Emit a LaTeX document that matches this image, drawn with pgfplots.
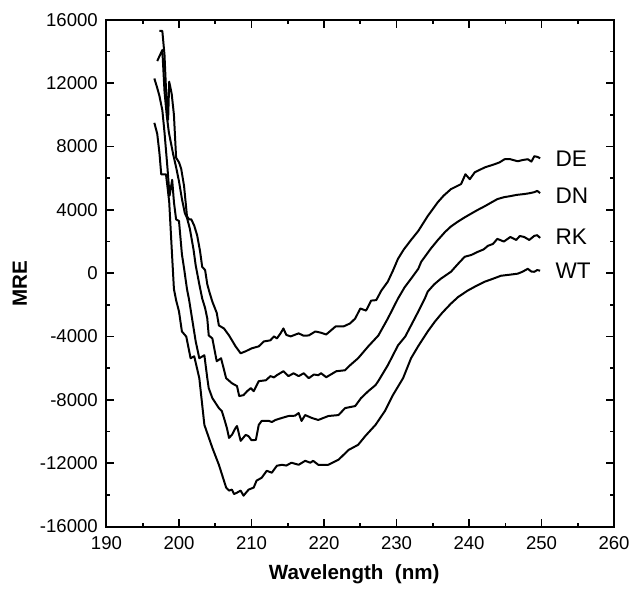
\documentclass[border=0pt]{standalone}
\usepackage{fontspec}
\setmainfont{Liberation Sans}
\usepackage{pgfplots}
\pgfplotsset{compat=1.18}
\tikzset{curve/.style={black, solid, line width=1.5pt, line join=round, mark=none}}
\begin{document}
\begin{tikzpicture}
\begin{axis}[
  scale only axis,
  width=382.5pt, height=381.75pt,
  xmin=190, xmax=260, ymin=-16000, ymax=16000,
  xtick={190,200,...,260}, ytick={-16000,-12000,...,16000},
  minor xtick={195,205,...,255}, minor ytick={-14000,-10000,...,14000},
  tick align=inside,
  major tick length=6pt, minor tick length=3pt,
  every tick/.style={black, line width=1.2pt},
  axis line style={line width=1.5pt},
  scaled ticks=false,
  /pgf/number format/assume math mode=true,
  /pgf/number format/.cd, 1000 sep={}, /pgfplots/.cd,
  tick label style={font=\fontsize{14}{16}\selectfont},
  xticklabel style={yshift=-4pt},
  yticklabel style={xshift=-3pt},
  xlabel={\textbf{Wavelength\ \ (nm)}},
  ylabel={\textbf{MRE}},
  label style={font=\fontsize{15.5}{18}\selectfont},
  xlabel style={at={(rel axis cs:0.488,-0.0943)}, anchor=center},
  ylabel style={at={(rel axis cs:-0.1706,0.479)}, anchor=center},
  clip=false,
]
\path (rel axis cs:-0.2098,-0.1473) rectangle (rel axis cs:1.0333,1.0393);
% WT
\addplot[curve] coordinates {
(196.6,9500)(197.0,8800)(197.3,7600)(197.55,6250)(198.2,6250)(198.4,5500)(198.65,4500)(199.0,1500)(199.3,-1000)(199.6,-1700)(200.0,-2420)(200.4,-3680)(201.0,-4000)(201.6,-5370)(202.1,-5250)(202.8,-6630)(203.5,-9580)(204.6,-11030)(205.5,-12100)(206.5,-13540)(206.9,-13730)(207.3,-13670)(207.6,-13950)(208.0,-13860)(208.5,-13730)(208.9,-14050)(209.6,-13670)(210.3,-13540)(210.7,-13100)(211.4,-12920)(212.1,-12480)(212.8,-12600)(213.5,-12160)(214.2,-12100)(214.8,-12150)(215.5,-11970)(216.5,-12100)(217.4,-11850)(218.1,-11970)(218.5,-11850)(219.2,-12100)(220.6,-12100)(222.0,-11780)(223.4,-11160)(224.7,-10840)(225.7,-10280)(227.1,-9580)(228.4,-8700)(229.5,-7700)(230.9,-6630)(232.0,-5370)(233.0,-4600)(234.3,-3680)(235.3,-3050)(236.3,-2500)(237.5,-1920)(238.5,-1500)(239.8,-1100)(241.0,-800)(242.2,-530)(243.3,-350)(244.4,-160)(245.5,-100)(246.7,-30)(247.4,100)(248.1,280)(248.6,100)(249.0,90)(249.4,200)(249.8,160)
};
% RK
\addplot[curve] coordinates {
(196.6,12300)(197.0,11700)(197.3,11200)(197.7,10300)(198.0,8900)(198.4,6700)(198.7,4900)(199.06,5900)(199.3,4500)(199.6,3400)(200.0,3300)(200.4,1200)(200.7,300)(201.1,-1000)(201.4,-1700)(201.8,-2860)(202.3,-4300)(202.8,-5370)(203.5,-5180)(203.9,-6630)(204.1,-7260)(204.6,-7890)(205.5,-8520)(205.9,-8700)(206.2,-9140)(206.6,-9770)(206.9,-10400)(207.3,-10210)(207.8,-9770)(208.0,-9650)(208.5,-10590)(209.2,-10210)(209.6,-10300)(210.0,-10550)(210.6,-10530)(211.0,-9580)(211.4,-9330)(212.4,-9330)(212.8,-9400)(213.3,-9270)(214.2,-9140)(215.1,-9020)(216.0,-9000)(216.5,-8830)(216.9,-9330)(217.4,-8960)(218.3,-9140)(219.2,-9270)(220.6,-9020)(222.0,-8960)(222.9,-8520)(224.3,-8390)(225.1,-7890)(226.1,-7450)(227.1,-7070)(227.5,-6800)(228.8,-5810)(230.2,-4560)(231.2,-4000)(232.0,-3300)(233.0,-2420)(233.9,-1600)(234.3,-1160)(235.2,-700)(236.1,-350)(237.5,90)(238.5,600)(239.4,1040)(240.3,1150)(241.2,1350)(242.0,1500)(242.6,1730)(243.3,1850)(243.9,2170)(244.8,2000)(245.7,2290)(246.5,2100)(247.0,2350)(247.6,2290)(248.3,2100)(249.0,2360)(249.4,2400)(249.8,2230)
};
% DN
\addplot[curve] coordinates {
(197.0,13400)(197.3,13700)(197.7,14100)(198.0,11500)(198.3,10000)(198.6,8900)(199.2,7500)(199.6,6700)(200.0,5800)(200.4,4700)(200.8,3800)(201.1,3500)(201.5,2800)(202.0,1500)(202.3,500)(202.8,-700)(203.2,-1600)(203.6,-2200)(203.9,-2860)(204.1,-3930)(204.6,-4120)(205.2,-5560)(205.8,-5370)(206.5,-6630)(207.3,-6950)(208.0,-7130)(208.3,-7760)(208.9,-7700)(209.4,-7450)(209.9,-7260)(210.3,-7450)(211.0,-6820)(212.0,-6760)(212.6,-6500)(213.1,-6580)(213.5,-6440)(214.4,-6190)(215.1,-6500)(215.8,-6320)(216.5,-6500)(217.2,-6320)(217.9,-6630)(218.6,-6400)(219.2,-6440)(219.6,-6320)(220.3,-6570)(221.7,-6190)(222.9,-6130)(223.6,-5810)(224.7,-5370)(226.1,-4620)(227.5,-3930)(228.8,-2860)(230.2,-1600)(231.1,-900)(232.0,-350)(233.0,280)(233.4,720)(234.7,1540)(235.7,2100)(236.7,2610)(237.5,2950)(238.4,3240)(239.3,3500)(240.2,3740)(241.2,4000)(242.2,4240)(243.0,4450)(243.9,4680)(244.8,4800)(245.7,4870)(246.6,4950)(247.6,5000)(248.3,5050)(249.0,5120)(249.4,5200)(249.8,5060)
};
% DE
\addplot[curve] coordinates {
(197.3,15300)(197.7,15300)(198.0,13800)(198.2,11700)(198.5,9700)(198.65,12100)(199.0,11300)(199.3,10000)(199.6,7300)(200.0,7000)(200.3,6600)(200.7,5500)(201.1,3600)(201.4,3400)(201.7,3400)(202.1,3000)(202.5,2400)(202.9,1400)(203.2,400)(203.6,200)(203.9,-700)(204.2,-1200)(204.6,-1800)(205.2,-2500)(205.5,-3300)(206.2,-3490)(206.9,-3930)(207.8,-4620)(208.5,-5060)(209.2,-4930)(210.0,-4750)(211.0,-4620)(211.7,-4310)(212.6,-4240)(213.1,-3990)(213.5,-4120)(214.0,-3800)(214.4,-3490)(214.8,-3900)(215.4,-3990)(216.5,-3800)(217.2,-3950)(217.9,-3930)(218.8,-3680)(219.5,-3750)(220.3,-3870)(221.6,-3360)(222.7,-3360)(223.6,-3170)(224.3,-2860)(225.0,-2230)(225.8,-2360)(226.5,-1730)(227.2,-1700)(227.9,-1100)(228.8,-530)(229.5,160)(230.2,910)(231.0,1500)(232.0,2100)(233.0,2670)(234.3,3610)(235.7,4490)(236.5,4900)(237.5,5310)(238.9,5630)(239.5,6250)(240.1,5940)(240.8,6380)(242.2,6690)(243.5,6880)(244.2,7000)(244.9,7200)(245.7,7200)(246.7,7070)(247.4,7150)(248.1,7200)(248.6,7050)(249.0,7390)(249.4,7350)(249.8,7260)
};
\node[anchor=west, font=\fontsize{17}{20}\selectfont, inner sep=0pt] at (axis cs:251.9,7200) {DE};
\node[anchor=west, font=\fontsize{17}{20}\selectfont, inner sep=0pt] at (axis cs:251.9,4870) {DN};
\node[anchor=west, font=\fontsize{17}{20}\selectfont, inner sep=0pt] at (axis cs:251.9,2290) {RK};
\node[anchor=west, font=\fontsize{17}{20}\selectfont, inner sep=0pt] at (axis cs:251.9,160) {WT};
\end{axis}
\end{tikzpicture}
\end{document}
